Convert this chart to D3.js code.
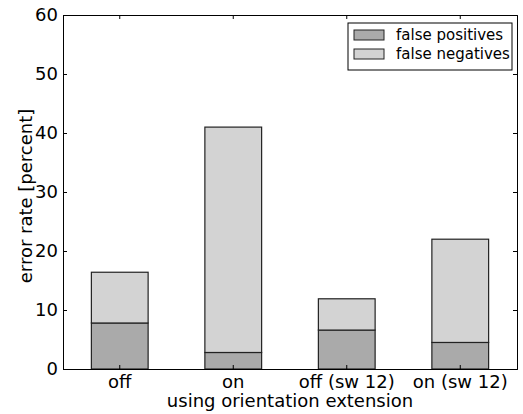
<!DOCTYPE html>
<html>
<head>
<meta charset="utf-8">
<script src="https://cdn.jsdelivr.net/npm/d3@7"></script>
<style>
  body { margin: 0; background: #fff; }
  svg { font-family: "DejaVu Sans", sans-serif; }
</style>
</head>
<body>
<div class="vis-bars"></div>
<script>
const categories = ["off", "on", "off (sw 12)", "on (sw 12)"];
const falsePositives = [7.8, 2.8, 6.6, 4.5];
const falseNegatives = [8.6, 38.2, 5.3, 17.5];
const seriesNames = ["false positives", "false negatives"];
const seriesColors = ["#aaaaaa", "#d3d3d3"];
const yTicks = [0, 10, 20, 30, 40, 50, 60];

const draw = () => {
  let margin = { top: 15, right: 6, bottom: 45, left: 63 };
  const width = 523 - margin.left - margin.right;
  const height = 414 - margin.top - margin.bottom;
  let svg = d3
    .select(".vis-bars")
    .append("svg")
    .attr("width", 523)
    .attr("height", 414)
    .append("g")
    .attr("transform", "translate(" + margin.left + "," + margin.top + ")");

  let x = d3
    .scaleBand()
    .domain(categories)
    .range([0, width])
    .paddingInner(0.5)
    .paddingOuter(0.25);
  let y = d3.scaleLinear().domain([0, 60]).range([height, 0]);

  // stacked bars
  let rows = categories.map((c, i) => ({
    cat: c,
    fp: falsePositives[i],
    fn: falseNegatives[i]
  }));
  let stacked = d3.stack().keys(["fp", "fn"])(rows);

  stacked.forEach((layer, k) => {
    svg
      .append("g")
      .selectAll("rect")
      .data(layer)
      .join("rect")
      .attr("x", d => x(d.data.cat))
      .attr("width", x.bandwidth())
      .attr("y", d => y(d[1]))
      .attr("height", d => y(d[0]) - y(d[1]))
      .attr("fill", seriesColors[k])
      .attr("stroke", "#222")
      .attr("stroke-width", 1.2);
  });

  // axes, ticks pointing inwards like matplotlib classic
  let tickSize = 4;
  let left = svg.append("g").call(d3.axisLeft(y).tickValues(yTicks).tickSize(-tickSize).tickPadding(4));
  let right = svg
    .append("g")
    .attr("transform", "translate(" + width + ",0)")
    .call(d3.axisRight(y).tickValues(yTicks).tickSize(-tickSize).tickFormat(""));
  let bottom = svg
    .append("g")
    .attr("transform", "translate(0," + height + ")")
    .call(d3.axisBottom(x).tickSize(-tickSize).tickPadding(5));
  let top = svg.append("g").call(d3.axisTop(x).tickSize(-tickSize).tickFormat(""));

  [left, right, bottom, top].forEach(g => {
    g.attr("font-size", null).attr("font-family", null);
    g.select(".domain").attr("stroke", "#000").attr("stroke-width", 1);
    g.selectAll(".tick line").attr("stroke", "#000");
    g.selectAll("text").style("font-size", "18px").attr("fill", "#000");
  });
  bottom.selectAll(".tick text").attr("dy", "0.75em");
  left.selectAll(".tick text").attr("dx", "-1");

  // axis labels
  svg
    .append("text")
    .attr("x", width / 2)
    .attr("y", height + 38)
    .attr("text-anchor", "middle")
    .style("font-size", "18px")
    .text("using orientation extension");
  svg
    .append("text")
    .attr("transform", "translate(-31," + (height / 2 + 4) + ") rotate(-90)")
    .attr("text-anchor", "middle")
    .style("font-size", "18px")
    .text("error rate [percent]");

  // legend
  let legend = svg.append("g").attr("transform", "translate(" + (width - 169) + ",8)");
  legend
    .append("rect")
    .attr("width", 164)
    .attr("height", 47)
    .attr("fill", "#fff")
    .attr("stroke", "#000");
  seriesNames.forEach((name, i) => {
    legend
      .append("rect")
      .attr("x", 6)
      .attr("y", 7 + i * 19)
      .attr("width", 30)
      .attr("height", 10)
      .attr("fill", seriesColors[i])
      .attr("stroke", "#222");
    legend
      .append("text")
      .attr("x", 48)
      .attr("y", 12 + i * 19)
      .attr("dy", "0.35em")
      .style("font-size", "15px")
      .text(name);
  });
};

draw();
</script>
</body>
</html>
